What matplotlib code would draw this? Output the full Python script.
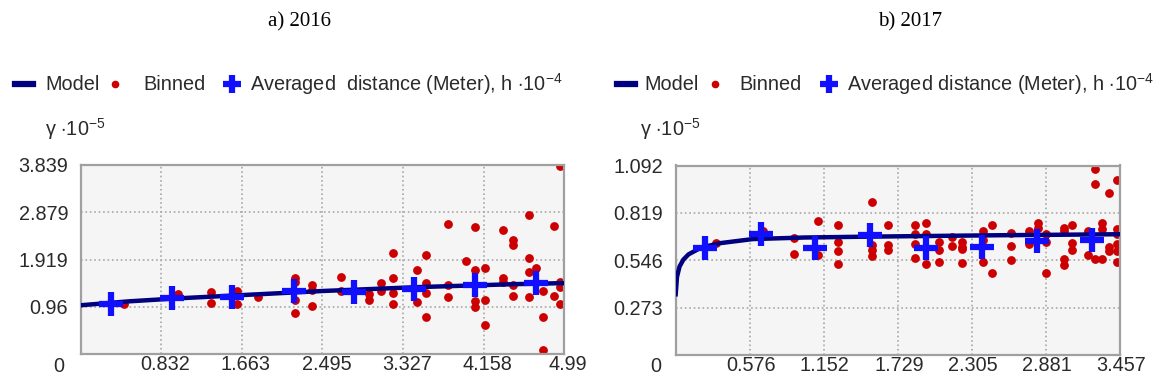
import matplotlib
matplotlib.use('Agg')
import matplotlib.pyplot as plt
import matplotlib.transforms as mtransforms
from matplotlib.lines import Line2D
from matplotlib import font_manager

# ---- data ----
left_model_x = [0, 0.5, 1.0, 1.5, 2.0, 2.5, 3.0, 3.5, 4.0, 4.5, 4.99]
left_model_y = [0.99, 1.07, 1.13, 1.18, 1.23, 1.28, 1.32, 1.36, 1.39, 1.42, 1.44]
left_avg_x = [0.31, 0.94, 1.56, 2.20, 2.82, 3.44, 4.07, 4.70]
left_avg_y = [1.01, 1.14, 1.16, 1.28, 1.26, 1.33, 1.40, 1.44]
left_bin_x = [0.45, 1.00, 1.34, 1.34, 1.61, 1.61, 1.83,
              2.21, 2.21, 2.21, 2.21, 2.39, 2.39, 2.39, 2.69, 2.69, 2.97, 2.97, 3.10, 3.10,
              3.22, 3.22, 3.22, 3.22, 3.47, 3.47, 3.56, 3.56, 3.56, 3.56, 3.79, 3.79, 3.79, 3.98,
              4.07, 4.07, 4.07, 4.07, 4.17, 4.17, 4.17, 4.36, 4.36, 4.36, 4.46, 4.46, 4.46, 4.46,
              4.63, 4.63, 4.63, 4.63, 4.70, 4.77, 4.77, 4.77, 4.88, 4.88, 4.95, 4.95, 4.95, 4.95]
left_bin_y = [1.02, 1.22, 1.25, 1.04, 1.02, 1.27, 1.16,
              1.54, 1.47, 1.10, 0.83, 1.40, 1.30, 0.98, 1.57, 1.27, 1.22, 1.10, 1.44, 1.27,
              2.05, 1.54, 1.23, 1.02, 1.71, 1.06, 2.01, 1.44, 1.23, 0.76, 2.65, 1.40, 1.16, 1.88,
              2.57, 1.71, 1.08, 0.96, 1.75, 1.10, 0.58, 2.52, 1.54, 1.47, 2.32, 2.21, 1.40, 1.18,
              2.82, 1.94, 1.67, 1.16, 1.74, 1.27, 0.76, 0.08, 2.60, 1.18, 3.82, 1.47, 1.37, 1.02]
left_xticks = [0.832, 1.663, 2.495, 3.327, 4.158, 4.99]
left_yticks = [0.96, 1.919, 2.879, 3.839]

right_model_x = [0, 0.01, 0.03, 0.06, 0.1, 0.2, 0.35, 0.6, 1.0, 1.5, 2.0, 2.5, 3.0, 3.457]
right_model_y = [0.35, 0.45, 0.51, 0.55, 0.58, 0.62, 0.645, 0.668, 0.677, 0.682, 0.686, 0.690, 0.693, 0.696]
right_avg_x = [0.23, 0.66, 1.08, 1.51, 1.95, 2.38, 2.81, 3.24]
right_avg_y = [0.615, 0.697, 0.615, 0.692, 0.615, 0.624, 0.657, 0.665]
right_bin_x = [0.31, 0.68, 0.92, 0.92, 1.11, 1.11, 1.26, 1.26, 1.26, 1.26,
               1.53, 1.53, 1.53, 1.53, 1.65, 1.65, 1.65, 1.86, 1.86, 1.86, 1.86,
               1.95, 1.95, 1.95, 2.05, 2.05, 2.05, 2.15, 2.15, 2.23, 2.23, 2.23, 2.23,
               2.39, 2.39, 2.39, 2.46, 2.46, 2.61, 2.61, 2.61, 2.75, 2.75, 2.82, 2.82,
               2.88, 2.88, 2.88, 3.02, 3.02, 3.02, 3.02, 3.08, 3.08, 3.08, 3.21, 3.21,
               3.26, 3.26, 3.26, 3.32, 3.32, 3.32, 3.37, 3.37, 3.37,
               3.43, 3.43, 3.43, 3.43, 3.43, 3.43]
right_bin_y = [0.644, 0.715, 0.676, 0.582, 0.772, 0.576, 0.749, 0.649, 0.601, 0.524,
               0.883, 0.634, 0.605, 0.571, 0.749, 0.634, 0.605, 0.749, 0.696, 0.638, 0.561,
               0.759, 0.696, 0.524, 0.653, 0.605, 0.538, 0.682, 0.630, 0.649, 0.624, 0.611, 0.528,
               0.715, 0.663, 0.538, 0.749, 0.471, 0.701, 0.630, 0.547, 0.715, 0.638, 0.759, 0.734,
               0.696, 0.649, 0.471, 0.730, 0.715, 0.552, 0.519, 0.749, 0.644, 0.605, 0.715, 0.574,
               1.071, 0.987, 0.555, 0.762, 0.724, 0.555, 0.931, 0.621, 0.602,
               1.006, 0.724, 0.696, 0.640, 0.602, 0.537]
right_xticks = [0.576, 1.152, 1.729, 2.305, 2.881, 3.457]
right_yticks = [0.273, 0.546, 0.819, 1.092]

titles = ['a) 2016', 'b) 2017']

# ---- fonts ----
names = {f.name for f in font_manager.fontManager.ttflist}
if 'Liberation Sans Narrow' in names:
    sans = ['Liberation Sans Narrow', 'DejaVu Sans']
    fs = 17
else:
    sans = ['Liberation Sans', 'DejaVu Sans']
    fs = 14.3
plt.rcParams['font.family'] = sans
plt.rcParams['mathtext.fontset'] = 'custom'
plt.rcParams['mathtext.rm'] = sans[0]

W, H = 1153, 385
fig = plt.figure(figsize=(W / 100, H / 100), dpi=100)
fig.patch.set_facecolor('white')

def fx(px):
    return px / W

def fy(py):
    return 1 - py / H

TXT = '#2a2a2a'
NAVY = '#000080'
BLUE = '#1010ff'
RED = '#cc0000'


def panel(rect, mx, my, ax_, ay_, bx, by, xt, yt, xmax, xoff, zero_px):
    ax = fig.add_axes(rect)
    ax.set_facecolor('#f5f5f5')
    ax.plot(mx, my, color=NAVY, lw=3.2, zorder=3)
    ax.plot(bx, by, 'o', color=RED, ms=5.3, zorder=2)
    ax.plot(ax_, ay_, '+', color=BLUE, ms=17, mew=4.5, zorder=4)
    ax.set_xlim(0, xmax)
    ax.set_ylim(0, yt[-1])
    ax.set_xticks(xt)
    ax.set_xticklabels([str(v) for v in xt])
    ax.set_yticks(yt)
    ax.set_yticklabels([str(v) for v in yt])
    ax.tick_params(length=0, labelsize=fs, colors=TXT)
    ax.tick_params(axis='x', pad=1)
    ax.tick_params(axis='y', pad=9)
    off = mtransforms.ScaledTranslation(xoff / 100, 0, fig.dpi_scale_trans)
    for lab in ax.get_xticklabels():
        lab.set_transform(lab.get_transform() + off)
    ax.grid(True, color='#a8a8a8', ls=':', lw=1.2)
    for s in ax.spines.values():
        s.set_color('#a0a0a0')
        s.set_linewidth(1.6)
    # the lone origin label under the y tick column
    fig.text(fx(zero_px), fy(367), '0', fontsize=fs, color=TXT, ha='center', va='center')
    return ax


panel([fx(80.7), fy(354), fx(483.6), 189 / H], left_model_x, left_model_y,
      left_avg_x, left_avg_y, left_bin_x, left_bin_y, left_xticks, left_yticks, 4.99, 4, 59)
panel([fx(675.7), fy(355), fx(444.3), 189.5 / H], right_model_x, right_model_y,
      right_avg_x, right_avg_y, right_bin_x, right_bin_y, right_xticks, right_yticks, 3.457, 1, 656)


def legend(x_dash, x_model, x_dot, x_binned, x_cross, x_avg, avg_text, y=84):
    fig.add_artist(Line2D([fx(x_dash), fx(x_dash + 18)], [fy(y), fy(y)], color=NAVY, lw=4.5,
                          transform=fig.transFigure))
    fig.text(fx(x_model), fy(y), 'Model', fontsize=fs, color=TXT, va='center')
    fig.add_artist(Line2D([fx(x_dot)], [fy(y)], marker='o', color=RED, ms=4.5,
                          transform=fig.transFigure))
    fig.text(fx(x_binned), fy(y), 'Binned', fontsize=fs, color=TXT, va='center')
    fig.add_artist(Line2D([fx(x_cross)], [fy(y)], marker='+', color=BLUE, ms=13, mew=4.5,
                          transform=fig.transFigure))
    fig.text(fx(x_avg), fy(y), avg_text, fontsize=fs, color=TXT, va='center')


legend(15, 45, 115, 143, 232, 250,
       'Averaged  distance (Meter), h $\\cdot$10$^{\\mathregular{-4}}$')
legend(617, 644, 715, 739, 829, 847,
       'Averaged distance (Meter), h $\\cdot$10$^{\\mathregular{-4}}$')

fig.text(fx(45), fy(129), 'γ $\\cdot$10$^{\\mathregular{-5}}$', fontsize=fs, color=TXT, va='center')
fig.text(fx(640), fy(129), 'γ $\\cdot$10$^{\\mathregular{-5}}$', fontsize=fs, color=TXT, va='center')

fig.text(fx(300), fy(22), titles[0], fontsize=15, family='Liberation Serif', ha='center', va='center')
fig.text(fx(910), fy(22), titles[1], fontsize=15, family='Liberation Serif', ha='center', va='center')

fig.savefig('out.png', dpi=100)
